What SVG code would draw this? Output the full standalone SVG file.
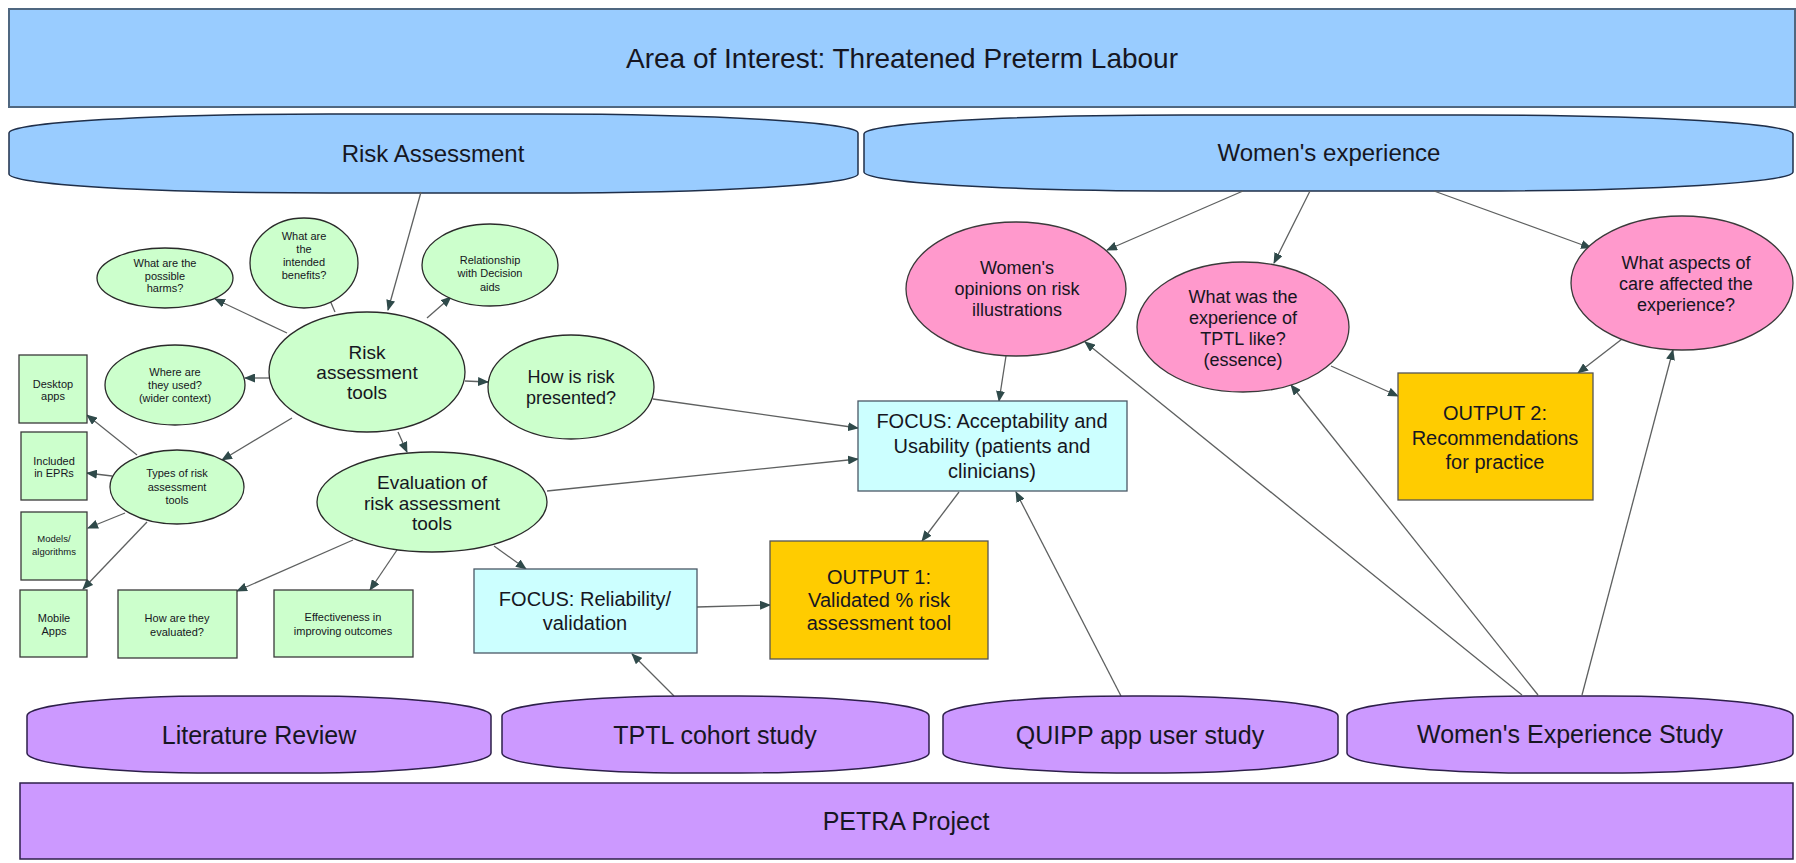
<svg xmlns="http://www.w3.org/2000/svg" width="1796" height="863" viewBox="0 0 1796 863">
<defs>
<style>
text{font-family:"Liberation Sans",Arial,sans-serif;fill:#161622;text-anchor:middle}
.banner{fill:#99CCFF;stroke:#1f2f4a;stroke-width:1.5}
.study{fill:#CC99FF;stroke:#2d1f4a;stroke-width:1.5}
.g{fill:#CCFFCC;stroke:#2a2a2a;stroke-width:1.3}
.gb{fill:#CCFFCC;stroke:#3a3a3a;stroke-width:1.3}
.c{fill:#CCFFFF;stroke:#4a5866;stroke-width:1.3}
.y{fill:#FFCC00;stroke:#555;stroke-width:1.3}
.p{fill:#FF99CC;stroke:#3a3a3a;stroke-width:1.3}
.t28{font-size:28px}.t25{font-size:25px}.t24{font-size:24px}.t20{font-size:20px}.t19{font-size:19px}.t18{font-size:18px}.t11{font-size:11px}.t9{font-size:9.5px}
#connectors line{stroke:#5e6060;stroke-width:1.3;marker-end:url(#ah)}
</style>
<marker id="ah" markerWidth="11" markerHeight="9" refX="10" refY="4.5" orient="auto" markerUnits="userSpaceOnUse"><path d="M0,0 L11,4.5 L0,9 Z" fill="#2f4a4a"/></marker>
</defs>
<rect width="1796" height="863" fill="#ffffff"/>

<g id="area">
<rect x="9" y="9" width="1786" height="98" fill="#99CCFF" stroke="#4f6780" stroke-width="2"/>
<text class="t28" x="902" y="68">Area of Interest: Threatened Preterm Labour</text>
</g>

<g id="risk-assessment">
<path class="banner" d="M9,133 A320,19 0 0 1 329,114 L538,114 A320,19 0 0 1 858,133 L858,174 A320,19 0 0 1 538,193 L329,193 A320,19 0 0 1 9,174 Z"/>
<text class="t24" x="433" y="162">Risk Assessment</text>
</g>

<g id="womens-experience">
<path class="banner" d="M864,134 A320,19 0 0 1 1184,115 L1473,115 A320,19 0 0 1 1793,134 L1793,172 A320,19 0 0 1 1473,191 L1184,191 A320,19 0 0 1 864,172 Z"/>
<text class="t24" x="1329" y="161">Women's experience</text>
</g>

<g id="connectors">
<line x1="421" y1="192" x2="388" y2="310"/>
<line x1="287" y1="333" x2="215" y2="299"/>
<line x1="335" y1="312" x2="325" y2="289"/>
<line x1="427" y1="318" x2="451" y2="297"/>
<line x1="269" y1="378" x2="245" y2="378"/>
<line x1="465" y1="381" x2="488" y2="382"/>
<line x1="292" y1="418" x2="222" y2="460"/>
<line x1="398" y1="432" x2="407" y2="452"/>
<line x1="137" y1="455" x2="87" y2="415"/>
<line x1="112" y1="476" x2="87" y2="473"/>
<line x1="125" y1="513" x2="88" y2="528"/>
<line x1="147" y1="522" x2="83" y2="589"/>
<line x1="353" y1="540" x2="237" y2="591"/>
<line x1="397" y1="550" x2="370" y2="590"/>
<line x1="494" y1="546" x2="526" y2="569"/>
<line x1="547" y1="491" x2="858" y2="459"/>
<line x1="653" y1="399" x2="858" y2="428"/>
<line x1="959" y1="492" x2="922" y2="541"/>
<line x1="697" y1="607" x2="770" y2="605"/>
<line x1="674" y1="696" x2="632" y2="654"/>
<line x1="1121" y1="696" x2="1016" y2="492"/>
<line x1="1243" y1="191" x2="1107" y2="250"/>
<line x1="1310" y1="191" x2="1274" y2="263"/>
<line x1="1434" y1="191" x2="1591" y2="248"/>
<line x1="1006" y1="356" x2="999" y2="401"/>
<line x1="1331" y1="366" x2="1398" y2="396"/>
<line x1="1622" y1="339" x2="1578" y2="373"/>
<line x1="1522" y1="695" x2="1085" y2="342"/>
<line x1="1538" y1="695" x2="1291" y2="385"/>
<line x1="1582" y1="695" x2="1673" y2="350"/>
</g>

<g id="harms">
<ellipse class="g" cx="165" cy="278" rx="68" ry="30"/>
<text class="t11" x="165" y="267">What are the</text>
<text class="t11" x="165" y="280">possible</text>
<text class="t11" x="165" y="292">harms?</text>
</g>

<g id="benefits">
<ellipse class="g" cx="304" cy="263" rx="54" ry="45"/>
<text class="t11" x="304" y="240">What are</text>
<text class="t11" x="304" y="253">the</text>
<text class="t11" x="304" y="266">intended</text>
<text class="t11" x="304" y="279">benefits?</text>
</g>

<g id="relationship">
<ellipse class="g" cx="490" cy="265" rx="68" ry="41"/>
<text class="t11" x="490" y="264">Relationship</text>
<text class="t11" x="490" y="277">with Decision</text>
<text class="t11" x="490" y="291">aids</text>
</g>

<g id="where-used">
<ellipse class="g" cx="175" cy="385" rx="70" ry="40"/>
<text class="t11" x="175" y="376">Where are</text>
<text class="t11" x="175" y="389">they used?</text>
<text class="t11" x="175" y="402">(wider context)</text>
</g>

<g id="risk-tools">
<ellipse class="g" cx="367" cy="372" rx="98" ry="60"/>
<text class="t19" x="367" y="359">Risk</text>
<text class="t19" x="367" y="379">assessment</text>
<text class="t19" x="367" y="399">tools</text>
</g>

<g id="how-presented">
<ellipse class="g" cx="571" cy="387" rx="83" ry="52"/>
<text class="t18" x="571" y="383">How is risk</text>
<text class="t18" x="571" y="404">presented?</text>
</g>

<g id="types">
<ellipse class="g" cx="177" cy="487" rx="67" ry="37"/>
<text class="t11" x="177" y="477">Types of risk</text>
<text class="t11" x="177" y="491">assessment</text>
<text class="t11" x="177" y="504">tools</text>
</g>

<g id="evaluation">
<ellipse class="g" cx="432" cy="502" rx="115" ry="50"/>
<text class="t19" x="432" y="489">Evaluation of</text>
<text class="t19" x="432" y="510">risk assessment</text>
<text class="t19" x="432" y="530">tools</text>
</g>

<g id="desktop">
<rect class="gb" x="19" y="355" width="68" height="68"/>
<text class="t11" x="53" y="388">Desktop</text>
<text class="t11" x="53" y="400">apps</text>
</g>

<g id="eprs">
<rect class="gb" x="21" y="432" width="66" height="68"/>
<text class="t11" x="54" y="465">Included</text>
<text class="t11" x="54" y="477">in EPRs</text>
</g>

<g id="models">
<rect class="gb" x="21" y="512" width="66" height="68"/>
<text class="t9" x="54" y="542">Models/</text>
<text class="t9" x="54" y="555">algorithms</text>
</g>

<g id="mobile">
<rect class="gb" x="20" y="590" width="67" height="67"/>
<text class="t11" x="54" y="622">Mobile</text>
<text class="t11" x="54" y="635">Apps</text>
</g>

<g id="how-evaluated">
<rect class="gb" x="118" y="590" width="119" height="68"/>
<text class="t11" x="177" y="622">How are they</text>
<text class="t11" x="177" y="636">evaluated?</text>
</g>

<g id="effectiveness">
<rect class="gb" x="274" y="590" width="139" height="67"/>
<text class="t11" x="343" y="621">Effectiveness in</text>
<text class="t11" x="343" y="635">improving outcomes</text>
</g>

<g id="focus-reliability">
<rect class="c" x="474" y="569" width="223" height="84"/>
<text class="t20" x="585" y="606">FOCUS: Reliability/</text>
<text class="t20" x="585" y="630">validation</text>
</g>

<g id="output1">
<rect class="y" x="770" y="541" width="218" height="118"/>
<text class="t20" x="879" y="584">OUTPUT 1:</text>
<text class="t20" x="879" y="607">Validated % risk</text>
<text class="t20" x="879" y="630">assessment tool</text>
</g>

<g id="focus-acceptability">
<rect class="c" x="858" y="401" width="269" height="90"/>
<text class="t20" x="992" y="428">FOCUS: Acceptability and</text>
<text class="t20" x="992" y="453">Usability (patients and</text>
<text class="t20" x="992" y="478">clinicians)</text>
</g>

<g id="opinions">
<ellipse class="p" cx="1016" cy="289" rx="110" ry="67"/>
<text class="t18" x="1017" y="274">Women's</text>
<text class="t18" x="1017" y="295">opinions on risk</text>
<text class="t18" x="1017" y="316">illustrations</text>
</g>

<g id="tptl-experience">
<ellipse class="p" cx="1243" cy="327" rx="106" ry="65"/>
<text class="t18" x="1243" y="303">What was the</text>
<text class="t18" x="1243" y="324">experience of</text>
<text class="t18" x="1243" y="345">TPTL like?</text>
<text class="t18" x="1243" y="366">(essence)</text>
</g>

<g id="aspects">
<ellipse class="p" cx="1682" cy="283" rx="111" ry="67"/>
<text class="t18" x="1686" y="269">What aspects of</text>
<text class="t18" x="1686" y="290">care affected the</text>
<text class="t18" x="1686" y="311">experience?</text>
</g>

<g id="output2">
<rect class="y" x="1398" y="373" width="195" height="127"/>
<text class="t20" x="1495" y="420">OUTPUT 2:</text>
<text class="t20" x="1495" y="445">Recommendations</text>
<text class="t20" x="1495" y="469">for practice</text>
</g>

<g id="literature-review">
<path class="study" d="M27,716 A190,20 0 0 1 217,696 L301,696 A190,20 0 0 1 491,716 L491,753 A190,20 0 0 1 301,773 L217,773 A190,20 0 0 1 27,753 Z"/>
<text class="t25" x="259" y="744">Literature Review</text>
</g>

<g id="tptl-cohort">
<path class="study" d="M502,716 A190,20 0 0 1 692,696 L739,696 A190,20 0 0 1 929,716 L929,753 A190,20 0 0 1 739,773 L692,773 A190,20 0 0 1 502,753 Z"/>
<text class="t25" x="715" y="744">TPTL cohort study</text>
</g>

<g id="quipp">
<path class="study" d="M943,716 A190,20 0 0 1 1133,696 L1148,696 A190,20 0 0 1 1338,716 L1338,753 A190,20 0 0 1 1148,773 L1133,773 A190,20 0 0 1 943,753 Z"/>
<text class="t25" x="1140" y="744">QUIPP app user study</text>
</g>

<g id="womens-study">
<path class="study" d="M1347,716 A190,20 0 0 1 1537,696 L1603,696 A190,20 0 0 1 1793,716 L1793,753 A190,20 0 0 1 1603,773 L1537,773 A190,20 0 0 1 1347,753 Z"/>
<text class="t25" x="1570" y="743">Women's Experience Study</text>
</g>

<g id="petra">
<rect x="20" y="783" width="1773" height="76" fill="#CC99FF" stroke="#2d1f4a" stroke-width="1.5"/>
<text class="t25" x="906" y="830">PETRA Project</text>
</g>
</svg>
